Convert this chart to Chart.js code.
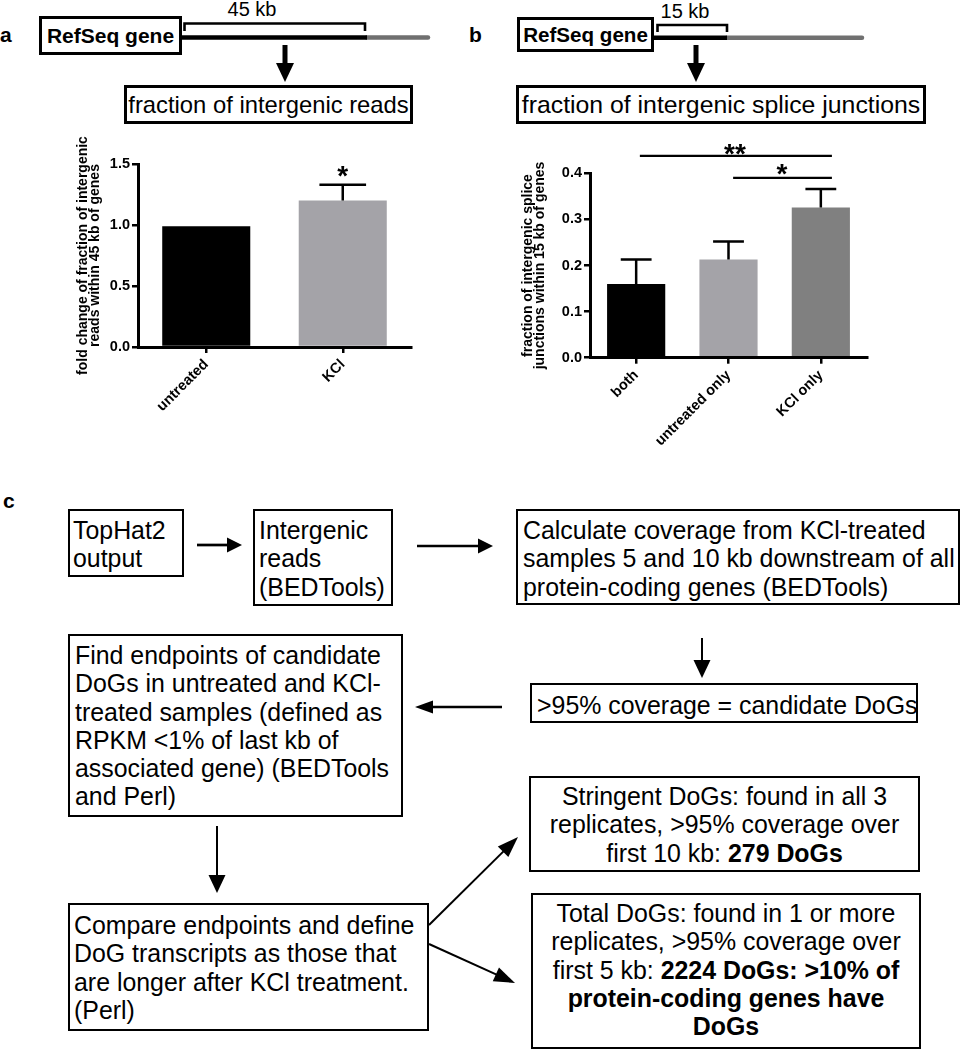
<!DOCTYPE html>
<html>
<head>
<meta charset="utf-8">
<script src="https://cdn.jsdelivr.net/npm/chart.js@4"></script>
<style>
html,body{margin:0;padding:0;background:#fff;}
body{width:962px;height:1050px;position:relative;overflow:hidden;font-family:"Liberation Sans",Arial,Helvetica,sans-serif;color:#000;}
.lbl{position:absolute;font-weight:bold;font-size:21px;line-height:21px;}
.rbox{position:absolute;box-sizing:border-box;border:3px solid #000;display:flex;align-items:center;justify-content:center;font-weight:bold;background:#fff;white-space:nowrap;}
.fbox{position:absolute;box-sizing:border-box;border:3px solid #000;display:flex;align-items:center;justify-content:center;background:#fff;white-space:nowrap;}
.box{position:absolute;box-sizing:border-box;border:2px solid #000;background:#fff;font-size:24.9px;line-height:28.3px;white-space:nowrap;padding:5px 0 0 4px;}
.box.c{text-align:center;padding:4px 0 0 0;}
.kb{position:absolute;font-size:20px;line-height:20px;text-align:center;white-space:nowrap;}
canvas{position:absolute;}
svg{position:absolute;left:0;top:0;}
</style>
</head>
<body>
<svg id="ov" width="962" height="1050"></svg>

<div class="lbl" style="left:0;top:24px">a</div>
<div class="lbl" style="left:469px;top:24px">b</div>
<div class="lbl" style="left:3px;top:490px">c</div>

<div class="kb" style="left:202px;top:-1px;width:100px">45 kb</div>
<div class="kb" style="left:635px;top:1px;width:100px">15 kb</div>

<div class="rbox" style="left:39px;top:16px;width:143px;height:39px;font-size:21px">RefSeq gene</div>
<div class="rbox" style="left:517px;top:17px;width:137px;height:35px;font-size:20.6px">RefSeq gene</div>

<div class="fbox" style="left:124px;top:85px;width:289px;height:39px;font-size:23.8px">fraction of intergenic reads</div>
<div class="fbox" style="left:516px;top:85px;width:410px;height:39px;font-size:24.8px">fraction of intergenic splice junctions</div>

<canvas id="ca" width="440" height="350" style="left:0;top:126px"></canvas>
<canvas id="cb" width="470" height="350" style="left:470px;top:126px"></canvas>

<div class="box" style="left:68px;top:509px;width:116px;height:68px;padding-left:3px">TopHat2<br>output</div>
<div class="box" style="left:253px;top:509px;width:140px;height:97px">Intergenic<br>reads<br>(BEDTools)</div>
<div class="box" style="left:516px;top:509px;width:444px;height:96px;padding-left:5px">Calculate coverage from KCl-treated<br>samples 5 and 10 kb downstream of all<br>protein-coding genes (BEDTools)</div>
<div class="box" style="left:530px;top:683px;width:388px;height:40px;padding-top:6px;padding-left:5px">&gt;95% coverage = candidate DoGs</div>
<div class="box" style="left:68px;top:634px;width:335px;height:183px;padding-left:5px">Find endpoints of candidate<br>DoGs in untreated and KCl-<br>treated samples (defined as<br>RPKM &lt;1% of last kb of<br>associated gene) (BEDTools<br>and Perl)</div>
<div class="box" style="left:68px;top:903px;width:361px;height:128px;padding-top:6px">Compare endpoints and define<br>DoG transcripts as those that<br>are longer after KCl treatment.<br>(Perl)</div>
<div class="box c" style="left:529px;top:776px;width:391px;height:96px">Stringent DoGs: found in all 3<br>replicates, &gt;95% coverage over<br>first 10 kb: <b>279 DoGs</b></div>
<div class="box c" style="left:531px;top:893px;width:390px;height:156px">Total DoGs: found in 1 or more<br>replicates, &gt;95% coverage over<br>first 5 kb: <b>2224 DoGs: &gt;10% of</b><br><b>protein-coding genes have</b><br><b>DoGs</b></div>

<script>
// ---------------- data ----------------
const categoriesA = ['untreated', 'KCl'];
const valuesA = [0.99, 1.20];
const errorsA = [0, 0.13];
const yTicksA = [0, 0.5, 1.0, 1.5];
const starsA = [{x: 1, y: 1.325, text: '*'}];

const categoriesB = ['both', 'untreated only', 'KCl only'];
const valuesB = [0.16, 0.213, 0.326];
const errorsB = [0.053, 0.039, 0.040];
const yTicksB = [0, 0.1, 0.2, 0.3, 0.4];
const sigLinesB = [{x1: 0.04, x2: 2.12, y: 0.438}, {x1: 1.05, x2: 2.12, y: 0.390}];
const starsB = [{x: 1.07, y: 0.4214, text: '**'}, {x: 1.58, y: 0.378, text: '*'}];

// ---------------- diagram overlay (arrows, gene lines) ----------------
const NS = 'http://www.w3.org/2000/svg';
const ov = document.getElementById('ov');
function el(tag, attrs) {
  const e = document.createElementNS(NS, tag);
  for (const k in attrs) e.setAttribute(k, attrs[k]);
  ov.appendChild(e);
  return e;
}
function arrow(x1, y1, x2, y2, lw, hl, hw) {
  const dx = x2 - x1, dy = y2 - y1, len = Math.hypot(dx, dy);
  const ux = dx / len, uy = dy / len, px = -uy, py = ux;
  const bx = x2 - ux * hl, by = y2 - uy * hl;
  el('line', {x1, y1, x2: bx + ux * 2, y2: by + uy * 2, stroke: '#000', 'stroke-width': lw});
  el('polygon', {points: `${x2},${y2} ${bx + px * hw / 2},${by + py * hw / 2} ${bx - px * hw / 2},${by - py * hw / 2}`, fill: '#000'});
}
// panel a gene diagram
el('line', {x1: 367, y1: 37.5, x2: 428, y2: 37.5, stroke: '#707070', 'stroke-width': 4.5, 'stroke-linecap': 'round'});
el('line', {x1: 182, y1: 37.5, x2: 367, y2: 37.5, stroke: '#000', 'stroke-width': 4.5});
el('path', {d: 'M184.5,31 L184.5,23.5 L365,23.5 L365,31', stroke: '#000', 'stroke-width': 2.6, fill: 'none'});
arrow(285, 45, 285, 82, 5, 19, 18);
// panel b gene diagram
el('line', {x1: 727, y1: 37.7, x2: 862, y2: 37.7, stroke: '#707070', 'stroke-width': 4.5, 'stroke-linecap': 'round'});
el('line', {x1: 654, y1: 37.7, x2: 727, y2: 37.7, stroke: '#000', 'stroke-width': 4.5});
el('path', {d: 'M657.5,32 L657.5,25 L727,25 L727,32', stroke: '#000', 'stroke-width': 2.6, fill: 'none'});
arrow(696, 45, 696, 82, 5, 19, 18);
// panel c flowchart
arrow(197, 545, 242, 545, 2.7, 15, 15);
arrow(417, 546, 493, 546, 2.7, 15, 15);
arrow(702, 638, 702, 678, 2, 18, 17);
arrow(502, 707, 415, 707, 2.7, 18, 13);
arrow(217, 826, 217, 893, 2, 18, 17);
arrow(429, 925, 518, 837, 2, 21, 15);
arrow(429, 944, 515, 983, 2, 21, 15);

// ---------------- charts ----------------
const FONT = '"Liberation Sans", Arial, Helvetica, sans-serif';
Chart.defaults.font.family = FONT;
Chart.defaults.color = '#000';

const errorBars = {
  id: 'errorBars',
  afterDatasetsDraw(chart, args, opts) {
    const {ctx} = chart, y = chart.scales.y, meta = chart.getDatasetMeta(0);
    ctx.save();
    ctx.strokeStyle = '#000';
    ctx.lineWidth = 2.5;
    opts.errors.forEach((e, i) => {
      if (!e) return;
      const bar = meta.data[i];
      const v = chart.data.datasets[0].data[i];
      const top = y.getPixelForValue(v), up = y.getPixelForValue(v + e);
      const half = bar.width * 0.265;
      ctx.beginPath();
      ctx.moveTo(bar.x, top); ctx.lineTo(bar.x, up);
      ctx.moveTo(bar.x - half, up); ctx.lineTo(bar.x + half, up);
      ctx.stroke();
    });
    ctx.restore();
  }
};
const sigMarks = {
  id: 'sigMarks',
  afterDatasetsDraw(chart, args, opts) {
    const {ctx} = chart, x = chart.scales.x, y = chart.scales.y;
    ctx.save();
    ctx.strokeStyle = '#000'; ctx.fillStyle = '#000'; ctx.lineWidth = 2.2;
    (opts.lines || []).forEach(l => {
      const py = y.getPixelForValue(l.y);
      ctx.beginPath();
      ctx.moveTo(x.getPixelForValue(l.x1), py);
      ctx.lineTo(x.getPixelForValue(l.x2), py);
      ctx.stroke();
    });
    ctx.font = 'bold 28px ' + FONT;
    ctx.textAlign = 'center'; ctx.textBaseline = 'alphabetic';
    (opts.stars || []).forEach(s => ctx.fillText(s.text, x.getPixelForValue(s.x), y.getPixelForValue(s.y)));
    ctx.restore();
  }
};

function makeChart(id, cats, vals, colors, ticks, yMax, yTitle, cfg) {
  return new Chart(document.getElementById(id), {
    type: 'bar',
    data: {labels: cats, datasets: [{data: vals, backgroundColor: colors, borderWidth: 0, barPercentage: cfg.barPct, categoryPercentage: 1}]},
    plugins: [errorBars, sigMarks],
    options: {
      responsive: false, animation: false, devicePixelRatio: 1,
      layout: {padding: {top: cfg.padTop, right: cfg.padRight, left: 0, bottom: 0}},
      plugins: {
        legend: {display: false}, tooltip: {enabled: false}, title: {display: false},
        errorBars: {errors: cfg.errors},
        sigMarks: {lines: cfg.lines, stars: cfg.stars}
      },
      scales: {
        x: {
          grid: {display: true, drawOnChartArea: false, drawTicks: true, tickLength: 6, color: '#000', lineWidth: 2.5, offset: false},
          border: {display: true, color: '#000', width: 3, z: 1},
          ticks: {color: '#000', font: {size: 14.5, weight: 'bold'}, minRotation: 45, maxRotation: 45, autoSkip: false, padding: 3},
          afterFit(s) { s.height = cfg.xHeight; }
        },
        y: {
          min: 0, max: yMax,
          afterBuildTicks(s) { s.ticks = ticks.map(v => ({value: v})); },
          grid: {display: true, drawOnChartArea: false, drawTicks: true, tickLength: 6, color: '#000', lineWidth: 2.5},
          border: {display: true, color: '#000', width: 3, z: 1},
          ticks: {color: '#000', font: {size: 14.5, weight: 'bold'}, padding: 2, callback: v => Number(v).toFixed(1)},
          title: {display: true, text: yTitle, color: '#000', font: {size: 14, weight: 'bold', lineHeight: 0.9}, padding: {top: cfg.titlePad, bottom: 0}},
          afterFit(s) { s.width = cfg.yWidth; }
        }
      }
    }
  });
}

makeChart('ca', categoriesA, valuesA, ['#000000', '#a4a3a8'], yTicksA, 1.5,
  ['fold change of fraction of intergenic', 'reads within 45 kb of genes'],
  {barPct: 0.645, padTop: 38, padRight: 29, xHeight: 129, yWidth: 138, titlePad: 76.7, errors: errorsA, lines: [], stars: starsA});

makeChart('cb', categoriesB, valuesB, ['#000000', '#a4a3a8', '#808080'], yTicksB, 0.4,
  ['fraction of intergenic splice', 'junctions within 15 kb of genes'],
  {barPct: 0.63, padTop: 47.3, padRight: 73, xHeight: 118.3, yWidth: 120, titlePad: 51.7, errors: errorsB, lines: sigLinesB, stars: starsB});
</script>
</body>
</html>
